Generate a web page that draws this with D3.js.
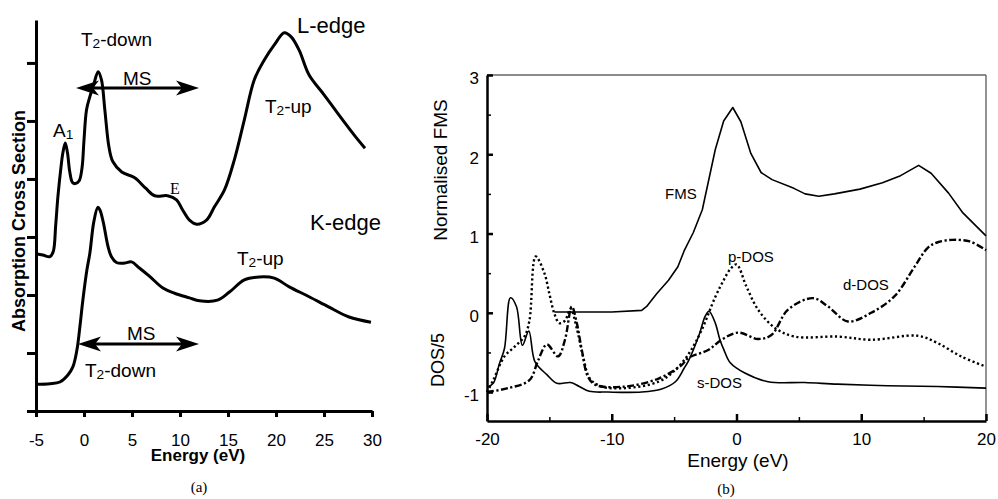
<!DOCTYPE html>
<html><head><meta charset="utf-8">
<script src="https://cdn.jsdelivr.net/npm/d3@7"></script>
<style>body{margin:0;background:#fff}</style>
</head><body>
<svg id="c" width="998" height="499" font-family="Liberation Sans, Arial, sans-serif"></svg>
<script>
// ---------- Panel (a) data ----------
const aTicksX = [-5,0,5,10,15,20,25,30];
const aTicksY = [0,1,2,3,4,5,6];
const lEdgeE = [-5.0,-4.3,-3.55,-3.2,-2.95,-2.72,-2.4,-2.2,-1.95,-1.72,-1.48,-1.2,-0.9,-0.5,-0.2,0.0,0.26,0.61,1.0,1.47,1.82,2.17,2.6,3.0,3.93,5.28,6.42,7.36,8.71,9.64,10.26,10.99,11.72,12.76,13.59,14.63,15.66,16.70,17.74,18.78,19.82,20.86,21.58,22.41,23.45,25.01,26.57,28.13,29.27];
const lEdgeV = [2.71,2.69,2.66,2.75,3.2,3.69,4.2,4.45,4.62,4.45,4.12,3.94,3.92,3.97,4.2,4.67,5.19,5.42,5.62,5.85,5.71,5.19,4.55,4.3,4.12,4.02,3.84,3.71,3.71,3.64,3.47,3.29,3.22,3.29,3.52,3.81,4.33,5.02,5.71,6.05,6.31,6.52,6.45,6.22,5.79,5.45,5.10,4.76,4.53];
const kEdgeE = [-5.0,-3.55,-2.51,-1.68,-1.16,-0.74,-0.43,-0.12,0.30,0.61,1.02,1.44,1.65,2.0,2.51,2.86,3.38,4.24,4.94,5.8,6.84,8.22,9.43,10.99,12.03,13.90,15.15,16.70,18.26,19.82,21.38,23.45,25.53,27.61,29.89];
const kEdgeV = [0.46,0.47,0.50,0.62,0.76,1.05,1.45,1.91,2.43,2.72,3.26,3.51,3.47,3.26,2.83,2.66,2.56,2.55,2.57,2.46,2.32,2.12,2.03,1.95,1.90,1.91,2.05,2.26,2.31,2.29,2.14,1.97,1.79,1.62,1.53];

// ---------- Panel (b) data ----------
const bTicksX = [-20,-10,0,10,20];
const bMinorX = [-15,-5,5,15];
const bTicksY = [-1,0,1,2,3];
const bMinorY = [-0.5,0.5,1.5,2.5];
const fmsE = [-14.6,-10,-7.6,-7.2,-6.4,-5.45,-4.7,-4.2,-3.47,-2.74,-1.7,-1.03,-0.3,0.35,1.15,1.97,2.85,4.6,5.5,6.6,7.85,9.9,11.7,13.15,14.6,15.6,17.0,18.15,20];
const fmsV = [0.01,0.01,0.03,0.08,0.24,0.41,0.58,0.78,1.01,1.30,2.06,2.42,2.59,2.41,2.01,1.77,1.68,1.57,1.50,1.47,1.50,1.56,1.64,1.73,1.86,1.76,1.51,1.26,0.97];
const sDosE = [-20,-19.5,-19.0,-18.6,-18.12,-17.64,-17.16,-16.65,-16.15,-15.2,-14.4,-13.3,-12.6,-11.8,-10.3,-7.6,-6.0,-4.9,-4.2,-3.83,-3.0,-2.5,-2.2,-1.7,-1.33,-1.0,-0.5,0.67,2.53,5.47,8.1,12.1,16.1,20];
const sDosV = [-0.94,-0.89,-0.64,-0.45,0.19,0.08,-0.41,-0.23,-0.62,-0.78,-0.89,-0.88,-0.93,-0.99,-1.0,-1.0,-0.96,-0.87,-0.7,-0.6,-0.28,-0.04,0.02,-0.13,-0.34,-0.47,-0.63,-0.76,-0.87,-0.88,-0.9,-0.92,-0.93,-0.95];
const pDosE = [-20,-19.5,-18.6,-17.8,-17.0,-16.6,-16.1,-15.4,-15.0,-14.6,-14.2,-13.75,-13.3,-12.8,-12.3,-11.75,-10.8,-8.9,-6.25,-4.9,-3.8,-2.8,-1.7,-1.0,-0.5,0,0.8,1.73,3.07,4.67,8.13,10.8,14.5,16.1,18,20];
const pDosV = [-1.0,-0.85,-0.55,-0.43,-0.3,-0.1,0.71,0.5,0.24,-0.01,-0.13,-0.1,0.05,-0.2,-0.55,-0.83,-0.93,-0.95,-0.87,-0.72,-0.51,-0.22,0.2,0.42,0.55,0.61,0.33,0.04,-0.19,-0.3,-0.3,-0.34,-0.29,-0.38,-0.55,-0.68];
const dDosE = [-20,-18.3,-16.6,-15.9,-15.2,-14.3,-13.75,-13.2,-12.8,-12.4,-11.9,-11.3,-8.9,-6.25,-4.4,-3.87,-2.27,-1.2,0.13,1.73,2.8,4.13,6.13,7.33,8.93,10.8,12.67,14.27,15.33,16.13,17.3,18.7,20];
const dDosV = [-1.0,-0.95,-0.85,-0.6,-0.4,-0.55,-0.34,0.08,-0.13,-0.47,-0.81,-0.91,-0.93,-0.83,-0.66,-0.57,-0.47,-0.34,-0.25,-0.33,-0.28,0.04,0.185,0.08,-0.11,0.0,0.21,0.58,0.82,0.89,0.92,0.9,0.79];

const svg = d3.select("#c");
const zip = (xs, ys) => xs.map((x,i)=>[x, ys[i]]);
const SERIF = "Liberation Serif, Times New Roman, serif";
const plain = d => String(d);

// ---------- Panel (a) ----------
const xA = d3.scaleLinear().domain([-5,30]).range([36,372]);
const yA = d3.scaleLinear().domain([0,6.74]).range([411,20]);
const gA = svg.append("g");

const axAx = gA.append("g").attr("transform","translate(0,411)")
  .call(d3.axisBottom(xA).tickValues(aTicksX).tickSize(6).tickSizeOuter(0).tickPadding(17).tickFormat(plain));
const axAy = gA.append("g").attr("transform","translate(36,0)")
  .call(d3.axisLeft(yA).tickValues(aTicksY).tickSize(9).tickSizeOuter(0).tickFormat(""));
[axAx, axAy].forEach(a=>{
  a.attr("font-family",null);
  a.select(".domain").attr("stroke","#000").attr("stroke-width",3);
  a.selectAll(".tick line").attr("stroke","#000").attr("stroke-width",3);
});
axAx.selectAll(".tick text").attr("font-size",17).attr("fill","#000");

const lineA = d3.line().x(d=>xA(d[0])).y(d=>yA(d[1])).curve(d3.curveCatmullRom.alpha(0.5));
gA.append("path").datum(zip(lEdgeE,lEdgeV)).attr("d",lineA)
  .attr("fill","none").attr("stroke","#000").attr("stroke-width",3).attr("stroke-linejoin","round");
gA.append("path").datum(zip(kEdgeE,kEdgeV)).attr("d",lineA)
  .attr("fill","none").attr("stroke","#000").attr("stroke-width",3).attr("stroke-linejoin","round");

// double arrows
function dblArrow(g, x1, x2, y){
  g.append("line").attr("x1",x1+6).attr("x2",x2-6).attr("y1",y).attr("y2",y)
    .attr("stroke","#000").attr("stroke-width",3);
  const L=23, W=7.5, N=6;
  g.append("path").attr("d",`M${x1},${y} L${x1+L},${y-W} L${x1+L-N},${y} L${x1+L},${y+W} Z`).attr("fill","#000");
  g.append("path").attr("d",`M${x2},${y} L${x2-L},${y-W} L${x2-L+N},${y} L${x2-L},${y+W} Z`).attr("fill","#000");
}
dblArrow(gA, 76, 199, 88);
dblArrow(gA, 78, 199, 344);

function tSub(g, x, y, main, sub, rest, size){
  const t = g.append("text").attr("x",x).attr("y",y).attr("font-size",size).attr("fill","#000");
  t.append("tspan").text(main);
  t.append("tspan").attr("font-size",size*0.72).attr("dy",size*0.12).text(sub);
  t.append("tspan").attr("dy",-size*0.12).text(rest);
}
gA.append("text").attr("x",297).attr("y",33).attr("font-size",22).text("L-edge");
gA.append("text").attr("x",310).attr("y",230).attr("font-size",22).text("K-edge");
tSub(gA, 81, 46, "T", "2", "-down", 19);
gA.append("text").attr("x",123).attr("y",85).attr("font-size",19).text("MS");
tSub(gA, 53, 137, "A", "1", "", 19);
gA.append("text").attr("x",170).attr("y",194).attr("font-size",16)
  .attr("font-family",SERIF).text("E");
tSub(gA, 265, 113, "T", "2", "-up", 19);
tSub(gA, 237, 265, "T", "2", "-up", 19);
gA.append("text").attr("x",127).attr("y",339.5).attr("font-size",19).text("MS");
tSub(gA, 85, 377, "T", "2", "-down", 19);

gA.append("text").attr("x",198).attr("y",461).attr("text-anchor","middle")
  .attr("font-size",17).attr("font-weight","bold").text("Energy (eV)");
gA.append("text").attr("transform","translate(18.5,221) rotate(-90)").attr("text-anchor","middle")
  .attr("dominant-baseline","central").attr("font-size",18).attr("font-weight","bold")
  .text("Absorption Cross Section");
gA.append("text").attr("x",199).attr("y",492).attr("text-anchor","middle").attr("font-size",15)
  .attr("font-family",SERIF).text("(a)");

// ---------- Panel (b) ----------
const xB = d3.scaleLinear().domain([-20,20]).range([487,986]);
const yB = d3.scaleLinear().domain([-1.365,3]).range([421,75]);
const gB = svg.append("g");

// frame top/right
gB.append("line").attr("x1",xB(-20)).attr("x2",xB(20)).attr("y1",yB(3)).attr("y2",yB(3))
  .attr("stroke","#666").attr("stroke-width",1.4);
gB.append("line").attr("x1",xB(20)).attr("x2",xB(20)).attr("y1",yB(3)).attr("y2",yB(-1.365))
  .attr("stroke","#666").attr("stroke-width",1.4);

const axBxMinor = gB.append("g").attr("transform",`translate(0,${yB(-1.365)})`)
  .call(d3.axisBottom(xB).tickValues(bMinorX).tickSize(-4).tickSizeOuter(0).tickFormat(""));
const axByMinor = gB.append("g").attr("transform",`translate(${xB(-20)},0)`)
  .call(d3.axisLeft(yB).tickValues(bMinorY).tickSize(-4).tickSizeOuter(0).tickFormat(""));
[axBxMinor, axByMinor].forEach(a=>{
  a.select(".domain").remove();
  a.selectAll(".tick line").attr("stroke","#000").attr("stroke-width",1.5);
});
const axBx = gB.append("g").attr("transform",`translate(0,${yB(-1.365)})`)
  .call(d3.axisBottom(xB).tickValues(bTicksX).tickSize(-7).tickSizeOuter(0).tickPadding(12).tickFormat(plain));
const axBy = gB.append("g").attr("transform",`translate(${xB(-20)},0)`)
  .call(d3.axisLeft(yB).tickValues(bTicksY).tickSize(-6).tickSizeOuter(0).tickPadding(8).tickFormat(plain));
[axBx, axBy].forEach(a=>{
  a.attr("font-family",null);
  a.select(".domain").attr("stroke","#000").attr("stroke-width",2.5);
  a.selectAll(".tick line").attr("stroke","#000").attr("stroke-width",2.5);
  a.selectAll(".tick text").attr("font-size",17).attr("fill","#000");
});
axBy.selectAll(".tick text").attr("dy","0.52em");

const lineB = d3.line().x(d=>xB(d[0])).y(d=>yB(d[1])).curve(d3.curveCatmullRom.alpha(0.5));
const lineBlin = d3.line().x(d=>xB(d[0])).y(d=>yB(d[1]));
gB.append("path").datum(zip(fmsE,fmsV)).attr("d",lineBlin)
  .attr("fill","none").attr("stroke","#000").attr("stroke-width",1.6).attr("stroke-linejoin","round");
gB.append("path").datum(zip(sDosE,sDosV)).attr("d",lineB)
  .attr("fill","none").attr("stroke","#000").attr("stroke-width",1.6).attr("stroke-linejoin","round");
gB.append("path").datum(zip(pDosE,pDosV)).attr("d",lineB)
  .attr("fill","none").attr("stroke","#000").attr("stroke-width",2.4).attr("stroke-dasharray","2.2,2.6");
gB.append("path").datum(zip(dDosE,dDosV)).attr("d",lineB)
  .attr("fill","none").attr("stroke","#000").attr("stroke-width",2.4).attr("stroke-dasharray","7,2.5,2.2,2.5");

gB.append("text").attr("x",665).attr("y",199).attr("font-size",15).text("FMS");
gB.append("text").attr("x",728).attr("y",261.5).attr("font-size",15).text("p-DOS");
gB.append("text").attr("x",843).attr("y",290).attr("font-size",15).text("d-DOS");
gB.append("text").attr("x",697).attr("y",388).attr("font-size",15).text("s-DOS");

gB.append("text").attr("x",738).attr("y",467).attr("text-anchor","middle").attr("font-size",19).text("Energy (eV)");
gB.append("text").attr("transform","translate(440,170) rotate(-90)").attr("text-anchor","middle")
  .attr("dominant-baseline","central").attr("font-size",19).text("Normalised FMS");
gB.append("text").attr("transform","translate(437.5,360) rotate(-90)").attr("text-anchor","middle")
  .attr("dominant-baseline","central").attr("font-size",18).text("DOS/5");
gB.append("text").attr("x",726).attr("y",494).attr("text-anchor","middle").attr("font-size",15)
  .attr("font-family",SERIF).text("(b)");
</script>
</body></html>
